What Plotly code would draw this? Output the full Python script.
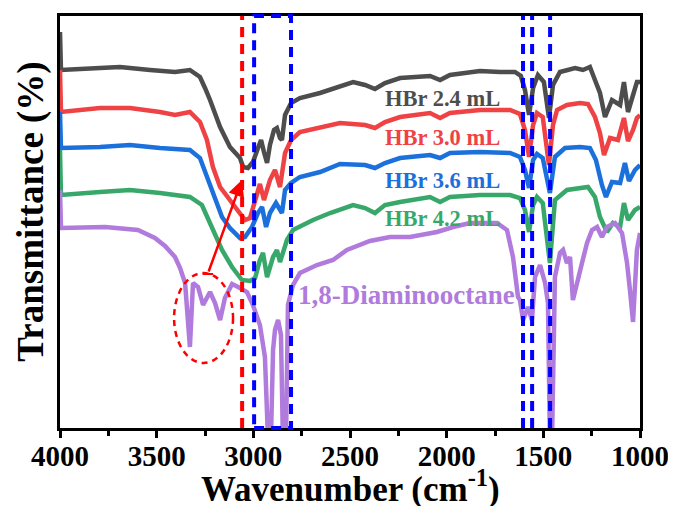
import plotly.graph_objects as go

# Wavenumber (cm-1) and transmittance (a.u., offset-stacked)
wn_24 = [4000, 3995, 3793, 3690, 3534, 3405, 3328, 3276, 3250, 3224, 3172, 3121, 3069, 3053, 3028, 3002, 2976, 2960, 2945, 2929, 2914, 2893, 2878, 2862, 2852, 2836, 2805, 2759, 2655, 2552, 2484, 2422, 2371, 2319, 2241, 2086, 2034, 1983, 1828, 1724, 1647, 1616, 1595, 1574, 1553, 1528, 1497, 1471, 1450, 1414, 1336, 1295, 1259, 1233, 1207, 1181, 1145, 1103, 1083, 1062, 1036, 1016, 1000]
t_24 = [396, 358, 360, 361, 358, 356, 358, 351, 340, 328, 301, 281, 270, 261, 260, 266, 280, 288, 276, 265, 283, 298, 300, 290, 288, 313, 325, 330, 335, 341, 346, 343, 339, 345, 350, 352, 348, 353, 357, 356, 356, 352, 338, 313, 340, 353, 346, 310, 343, 356, 360, 358, 361, 348, 335, 311, 328, 323, 346, 316, 335, 346, 346]

wn_30 = [4000, 3995, 3793, 3638, 3483, 3405, 3328, 3276, 3240, 3209, 3172, 3121, 3069, 3043, 3017, 2991, 2966, 2945, 2914, 2888, 2862, 2836, 2805, 2759, 2655, 2552, 2422, 2371, 2319, 2241, 2086, 2034, 1983, 1828, 1672, 1621, 1595, 1574, 1553, 1533, 1503, 1471, 1450, 1429, 1378, 1310, 1269, 1233, 1207, 1186, 1155, 1114, 1083, 1062, 1036, 1016, 1000]
t_30 = [358, 316, 320, 320, 316, 313, 316, 306, 288, 261, 241, 228, 215, 208, 210, 228, 244, 228, 248, 258, 241, 275, 288, 296, 300, 305, 303, 300, 306, 311, 315, 310, 315, 318, 318, 314, 298, 271, 303, 315, 311, 263, 303, 318, 323, 325, 324, 311, 295, 273, 290, 288, 310, 287, 298, 310, 313]

wn_36 = [4000, 3995, 3793, 3638, 3483, 3328, 3276, 3240, 3198, 3162, 3121, 3069, 3043, 3007, 2976, 2955, 2934, 2914, 2883, 2852, 2836, 2805, 2759, 2655, 2552, 2422, 2371, 2319, 2241, 2086, 2034, 1983, 1828, 1672, 1621, 1595, 1574, 1553, 1533, 1503, 1466, 1440, 1388, 1310, 1259, 1228, 1197, 1176, 1145, 1103, 1078, 1057, 1026, 1000]
t_36 = [316, 280, 281, 283, 280, 278, 270, 251, 228, 211, 200, 190, 191, 201, 215, 221, 201, 215, 225, 215, 238, 245, 251, 256, 264, 263, 260, 265, 270, 273, 270, 275, 276, 275, 271, 258, 240, 268, 274, 270, 235, 271, 280, 281, 280, 268, 243, 231, 246, 245, 265, 247, 258, 263]

wn_42 = [4000, 3995, 3793, 3638, 3483, 3328, 3266, 3214, 3162, 3110, 3059, 3017, 2991, 2966, 2950, 2929, 2898, 2878, 2862, 2826, 2795, 2691, 2603, 2484, 2422, 2371, 2319, 2241, 2086, 2034, 1983, 1828, 1672, 1621, 1595, 1574, 1553, 1533, 1503, 1466, 1440, 1378, 1310, 1269, 1233, 1207, 1171, 1140, 1103, 1083, 1062, 1026, 1000]
t_42 = [278, 233, 236, 238, 235, 231, 223, 201, 178, 161, 148, 147, 150, 168, 175, 151, 171, 178, 166, 188, 198, 208, 215, 223, 220, 215, 223, 226, 231, 226, 231, 233, 233, 230, 218, 196, 223, 231, 225, 165, 228, 238, 240, 241, 231, 211, 196, 205, 201, 225, 208, 218, 221]

wn_dao = [4000, 3995, 3767, 3597, 3509, 3457, 3405, 3379, 3353, 3328, 3312, 3286, 3260, 3224, 3198, 3172, 3147, 3110, 3079, 3033, 3002, 2966, 2940, 2924, 2909, 2898, 2888, 2872, 2857, 2847, 2831, 2821, 2795, 2759, 2671, 2588, 2516, 2397, 2293, 2190, 2050, 1967, 1879, 1740, 1688, 1657, 1631, 1621, 1605, 1579, 1559, 1543, 1517, 1491, 1476, 1466, 1455, 1440, 1414, 1398, 1378, 1362, 1347, 1321, 1300, 1274, 1248, 1222, 1197, 1171, 1129, 1093, 1067, 1052, 1036, 1016, 1000]
t_dao = [238, 200, 201, 198, 190, 182, 171, 160, 145, 81, 145, 141, 123, 136, 125, 108, 130, 144, 141, 136, 123, 103, 71, -12, -12, 78, 98, 108, 93, -12, -12, 123, 143, 155, 163, 168, 178, 187, 191, 191, 196, 201, 205, 205, 198, 171, 131, 128, 108, 121, 108, 151, 163, 145, 125, -12, -12, 151, 175, 178, 165, 171, 128, 151, 165, 185, 198, 201, 191, 201, 205, 195, 165, 138, 106, 178, 195]

series = [
    ("HBr 2.4 mL", wn_24, t_24, "#4d4d4d"),
    ("HBr 3.0 mL", wn_30, t_30, "#ef4244"),
    ("HBr 3.6 mL", wn_36, t_36, "#1c70dc"),
    ("HBr 4.2 mL", wn_42, t_42, "#37a86a"),
    ("1,8-Diaminooctane", wn_dao, t_dao, "#b07bdc"),
]

# label positions (left edge wavenumber, transmittance)
label_x = [2329, 2329, 2329, 2329, 2779]
label_y = [330, 291, 248, 210, 133]
label_size = [22.5, 22.5, 22.5, 22.5, 27]

red_lines = [3058]
blue_box = [2996, 2805]
blue_lines = [1605, 1558, 1465]
tick_vals = [4000, 3500, 3000, 2500, 2000, 1500, 1000]

fig = go.Figure()
for name, x, y, c in series:
    fig.add_trace(go.Scatter(x=x, y=y, mode="lines", name=name,
                             line=dict(color=c, width=4.5), showlegend=False))

serif = "Liberation Serif, Times New Roman, serif"
annotations = []
for (name, x, y, c), lx, ly, ls in zip(series, label_x, label_y, label_size):
    annotations.append(dict(x=lx, y=ly, xref="x", yref="y", text="<b>%s</b>" % name,
                            showarrow=False, xanchor="left", yanchor="middle",
                            font=dict(family=serif, size=ls, color=c)))

# red arrow from circled region to the red line
annotations.append(dict(x=3059, y=248, ax=3234, ay=155, xref="x", yref="y",
                        axref="x", ayref="y", text="", showarrow=True,
                        arrowhead=2, arrowsize=1.3, arrowwidth=2.5, arrowcolor="#ff0000"))

annotations.append(dict(x=-0.05, y=0.525, xref="paper", yref="paper",
                        text="<b>Transmittance (%)</b>", textangle=-90, showarrow=False,
                        xanchor="center", yanchor="middle",
                        font=dict(family=serif, size=37, color="black")))
annotations.append(dict(x=0.5, y=-0.141, xref="paper", yref="paper",
                        text="<b>Wavenumber (cm<sup>-1</sup>)</b>", showarrow=False,
                        xanchor="center", yanchor="middle",
                        font=dict(family=serif, size=35, color="black")))

shapes = []
dash_style = "10px,7px"
for xv in red_lines:
    shapes.append(dict(type="line", xref="x", yref="paper", x0=xv, x1=xv, y0=0, y1=1,
                       line=dict(color="#ff0000", width=4, dash=dash_style)))
shapes.append(dict(type="rect", xref="x", yref="paper", x0=blue_box[0], x1=blue_box[1],
                   y0=0, y1=1, line=dict(color="#0000ff", width=4, dash=dash_style)))
for xv in blue_lines:
    shapes.append(dict(type="line", xref="x", yref="paper", x0=xv, x1=xv, y0=0, y1=1,
                       line=dict(color="#0000ff", width=4, dash=dash_style)))
# dashed ellipse around N-H bands
shapes.append(dict(type="circle", xref="x", yref="y", x0=3410, x1=3105, y0=65, y1=155,
                   line=dict(color="#ff0000", width=2.5, dash="6px,5px")))
# small bar at arrow tail
shapes.append(dict(type="line", xref="x", yref="y", x0=3262, x1=3208, y0=154, y1=154,
                   line=dict(color="#ff0000", width=2)))

fig.update_layout(
    width=668, height=498,
    margin=dict(l=52, r=36, t=8, b=78),
    paper_bgcolor="white", plot_bgcolor="white",
    annotations=annotations, shapes=shapes,
    xaxis=dict(range=[4000, 1000], tickmode="array",
               tickvals=tick_vals, ticktext=[str(v) for v in tick_vals],
               ticks="outside", ticklen=7, tickwidth=2.5, tickcolor="black",
               ticklabelstandoff=-7,
               minor=dict(dtick=250, ticks="outside", ticklen=5, tickwidth=2.5, tickcolor="black"),
               showline=True, linewidth=3, linecolor="black", mirror=True,
               showgrid=False, zeroline=False, automargin=False,
               tickfont=dict(family=serif, size=29, color="black", weight="bold")),
    yaxis=dict(range=[0, 412], showticklabels=False, ticks="",
               showline=True, linewidth=3, linecolor="black", mirror=True,
               showgrid=False, zeroline=False, automargin=False),
)

fig.write_html("out.html")
